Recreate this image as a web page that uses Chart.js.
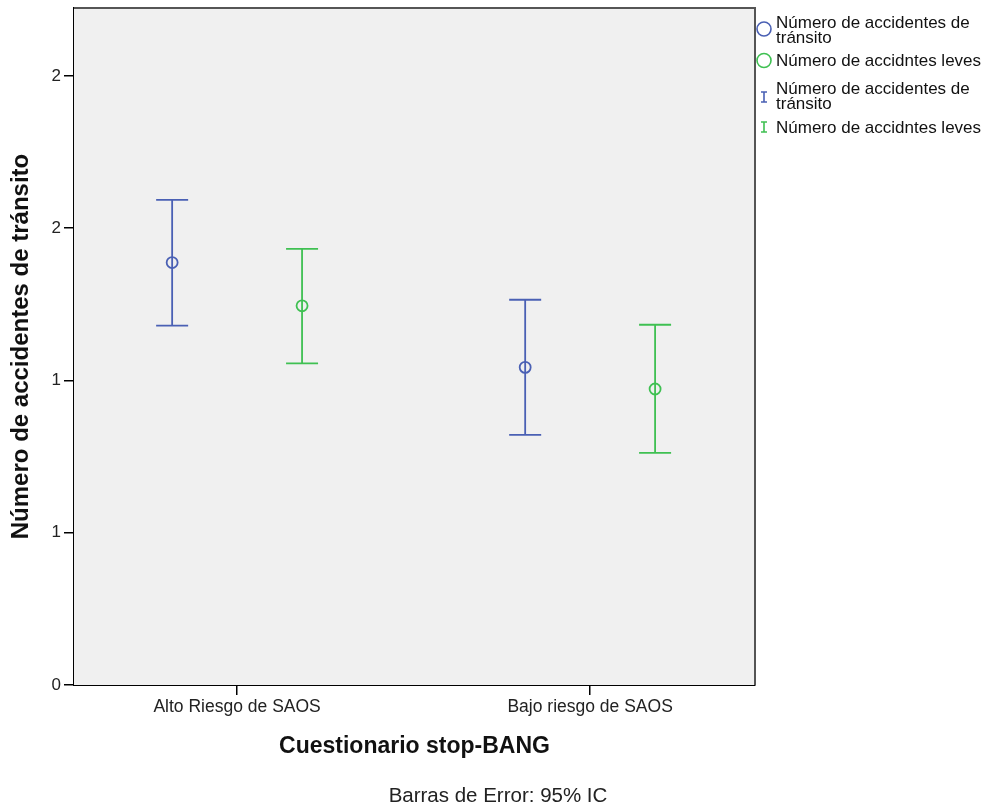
<!DOCTYPE html>
<html lang="es">
<head>
<meta charset="utf-8">
<title>Barras de error</title>
<script src="https://cdn.jsdelivr.net/npm/chart.js@4/dist/chart.umd.min.js"></script>
<style>
  html, body { margin: 0; padding: 0; background: #fff; }
  #wrap { position: relative; width: 996px; height: 809px; }
</style>
</head>
<body>
<div id="wrap"><canvas id="chart" width="996" height="809"></canvas></div>
<script>
/* global Chart */
'use strict';

const CATEGORIES = ['Alto Riesgo de SAOS', 'Bajo riesgo de SAOS'];
const SERIES = ['Número de accidentes de tránsito', 'Número de accidntes leves'];

// means and 95% CI bounds
const TRANSITO_MEAN = [1.387, 1.043];
const TRANSITO_LOW = [1.180, 0.821];
const TRANSITO_HIGH = [1.593, 1.265];
const LEVES_MEAN = [1.245, 0.972];
const LEVES_LOW = [1.056, 0.762];
const LEVES_HIGH = [1.432, 1.183];

const Y_TICKS = [0, 0.5, 1, 1.5, 2];
const Y_TICK_LABELS = ['0', '1', '1', '2', '2'];

const BLUE = '#4A60B4';
const GREEN = '#3FC052';
const FONT = '"Liberation Sans", Arial, sans-serif';
const GROUP_OFFSET = 0.184;

const points = (means, shift) => means.map((v, i) => ({ x: i + 1 + shift, y: v }));

// vertical whiskers with caps, placed through the chart scales
const errorBars = {
  id: 'errorBars',
  beforeDatasetsDraw(chart) {
    const { ctx, chartArea: a, scales: { x, y } } = chart;
    ctx.save();
    ctx.fillStyle = '#F0F0F0';
    ctx.fillRect(a.left, a.top, a.right - a.left, a.bottom - a.top);
    ctx.strokeStyle = '#555';
    ctx.lineWidth = 2;
    ctx.beginPath();
    ctx.moveTo(a.left, a.top);
    ctx.lineTo(a.right, a.top);
    ctx.lineTo(a.right, a.bottom);
    ctx.stroke();

    chart.data.datasets.forEach((ds) => {
      ctx.strokeStyle = ds.borderColor;
      ctx.lineWidth = 1.8;
      ds.data.forEach((p, i) => {
        const px = x.getPixelForValue(p.x);
        const top = y.getPixelForValue(ds.high[i]);
        const bot = y.getPixelForValue(ds.low[i]);
        ctx.beginPath();
        ctx.moveTo(px, top);
        ctx.lineTo(px, bot);
        ctx.moveTo(px - 16, top);
        ctx.lineTo(px + 16, top);
        ctx.moveTo(px - 16, bot);
        ctx.lineTo(px + 16, bot);
        ctx.stroke();
      });
    });
    ctx.restore();
  },
};

// SPSS style legend on the right plus the footnote
const sideLegend = {
  id: 'sideLegend',
  afterDraw(chart) {
    const { ctx } = chart;
    const items = [
      { icon: 'circle', color: BLUE, y: 29, lines: ['Número de accidentes de', 'tránsito'], ty: [23, 38] },
      { icon: 'circle', color: GREEN, y: 60.5, lines: [SERIES[1]], ty: [61] },
      { icon: 'bar', color: BLUE, y: 97, lines: ['Número de accidentes de', 'tránsito'], ty: [89, 104] },
      { icon: 'bar', color: GREEN, y: 127, lines: [SERIES[1]], ty: [128] },
    ];
    ctx.save();
    ctx.lineWidth = 1.6;
    items.forEach((it) => {
      ctx.strokeStyle = it.color;
      ctx.beginPath();
      if (it.icon === 'circle') {
        ctx.arc(764, it.y, 7, 0, Math.PI * 2);
      } else {
        ctx.moveTo(764, it.y - 5);
        ctx.lineTo(764, it.y + 5);
        ctx.moveTo(761, it.y - 5);
        ctx.lineTo(767, it.y - 5);
        ctx.moveTo(761, it.y + 5);
        ctx.lineTo(767, it.y + 5);
      }
      ctx.stroke();
      ctx.fillStyle = '#111';
      ctx.font = '17px ' + FONT;
      ctx.textAlign = 'left';
      ctx.textBaseline = 'middle';
      it.lines.forEach((t, k) => ctx.fillText(t, 776, it.ty[k]));
    });

    ctx.font = '20.5px ' + FONT;
    ctx.fillStyle = '#222';
    ctx.textAlign = 'center';
    ctx.fillText('Barras de Error: 95% IC', 498, 796);
    ctx.restore();
  },
};

new Chart(document.getElementById('chart'), {
  type: 'scatter',
  data: {
    datasets: [
      {
        label: SERIES[0],
        data: points(TRANSITO_MEAN, -GROUP_OFFSET),
        low: TRANSITO_LOW,
        high: TRANSITO_HIGH,
        borderColor: BLUE,
        backgroundColor: 'rgba(0,0,0,0)',
        pointRadius: 5.5,
        pointBorderWidth: 1.8,
      },
      {
        label: SERIES[1],
        data: points(LEVES_MEAN, GROUP_OFFSET),
        low: LEVES_LOW,
        high: LEVES_HIGH,
        borderColor: GREEN,
        backgroundColor: 'rgba(0,0,0,0)',
        pointRadius: 5.5,
        pointBorderWidth: 1.8,
      },
    ],
  },
  options: {
    responsive: false,
    animation: false,
    events: [],
    layout: { padding: { top: 8, right: 241, left: 0, bottom: 0 } },
    plugins: {
      legend: { display: false },
      tooltip: { enabled: false },
    },
    scales: {
      x: {
        type: 'linear',
        min: 0.538,
        max: 2.467,
        afterFit: (s) => {
          s.height = 124;
          s.paddingLeft = 0;
          s.paddingRight = 0;
        },
        afterBuildTicks: (s) => { s.ticks = CATEGORIES.map((_, i) => ({ value: i + 1 })); },
        ticks: {
          padding: 2,
          color: '#222',
          font: { family: FONT, size: 17.5 },
          callback: (v) => CATEGORIES[v - 1],
        },
        grid: { drawOnChartArea: false, tickLength: 10, color: '#000', lineWidth: 1.5 },
        border: { color: '#000', width: 2 },
        title: {
          display: true,
          text: 'Cuestionario stop-BANG',
          color: '#111',
          font: { family: FONT, size: 23, weight: 'bold' },
          padding: { top: 0, bottom: 49 },
        },
      },
      y: {
        min: 0,
        max: 2.223,
        afterFit: (s) => {
          s.width = 74;
          s.paddingTop = 0;
          s.paddingBottom = 0;
        },
        afterBuildTicks: (s) => { s.ticks = Y_TICKS.map((v) => ({ value: v })); },
        ticks: {
          padding: 3,
          color: '#222',
          font: { family: FONT, size: 17 },
          callback: (v) => Y_TICK_LABELS[Y_TICKS.indexOf(v)],
        },
        grid: { drawOnChartArea: false, tickLength: 10, color: '#000', lineWidth: 1.5 },
        border: { color: '#000', width: 2 },
        title: {
          display: true,
          text: 'Número de accidentes de tránsito',
          color: '#111',
          font: { family: FONT, size: 24, weight: 'bold' },
          padding: { top: 7, bottom: 0 },
        },
      },
    },
  },
  plugins: [errorBars, sideLegend],
});
</script>
</body>
</html>
